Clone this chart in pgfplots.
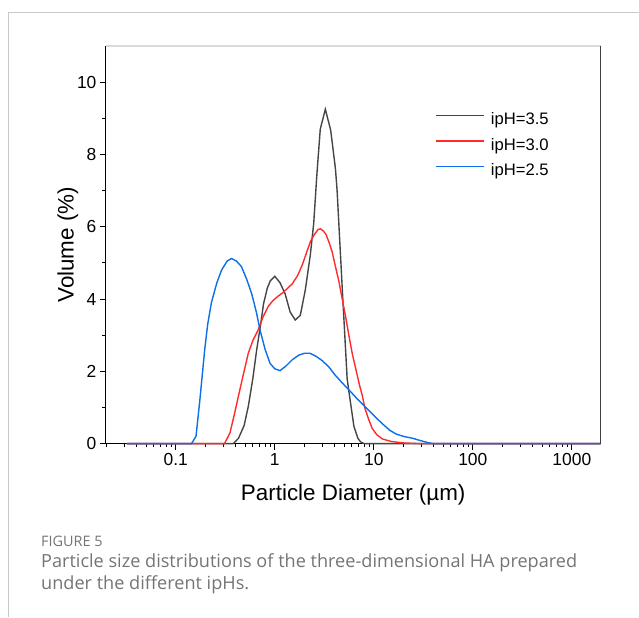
\documentclass[border=0pt]{standalone}
\usepackage{fontspec}
\setmainfont{Liberation Sans}
\newfontfamily\capfont{Open Sans}
\usepackage{pgfplots}
\pgfplotsset{compat=1.18}
\definecolor{phA}{HTML}{454545}
\definecolor{phB}{HTML}{FF2B2B}
\definecolor{phC}{HTML}{0A6FE8}
\definecolor{framegray}{HTML}{C8C8C8}
\definecolor{captext}{HTML}{747474}
\newcommand{\lgap}{\rule[-10bp]{0pt}{30bp}\hspace{4bp}}

\begin{document}
\begin{tikzpicture}
\path (0bp,0bp) rectangle (639bp,-617bp);
\draw[framegray, line width=1bp] (8.5bp,-617bp) -- (8.5bp,-12.5bp) -- (639bp,-12.5bp);
\begin{axis}[
    at={(106bp,-444bp)}, anchor=south west,
    scale only axis, width=495bp, height=398bp,
    xmode=log, xmin=0.0197, xmax=1950,
    ymin=0, ymax=11,
    axis lines*=left,
    axis line style={line width=1.1bp, black},
    tick align=outside,
    major tick length=6bp, minor tick length=3.5bp,
    tick style={line width=0.8bp, black},
    xtick={0.1,1,10,100,1000},
    xticklabels={0.1,1,10,100,1000},
    minor xtick={0.02,0.03,0.04,0.05,0.06,0.07,0.08,0.09,
                 0.2,0.3,0.4,0.5,0.6,0.7,0.8,0.9,
                 2,3,4,5,6,7,8,9,20,30,40,50,60,70,80,90,
                 200,300,400,500,600,700,800,900},
    ytick={0,2,4,6,8,10},
    minor ytick={1,3,5,7,9},
    tick label style={font=\fontsize{17.5}{19}\selectfont},
    /pgf/number format/assume math mode=true,
    xlabel={Particle Diameter (µm)},
    ylabel={Volume (\%)},
    xlabel style={at={(axis description cs:0.5,-0.128)}, anchor=center,
        font=\fontsize{22.5}{25}\selectfont},
    ylabel style={at={(axis description cs:-0.0768,0.5)}, anchor=center,
        font=\fontsize{22.5}{25}\selectfont},
    legend cell align=left,
    legend style={draw=none, fill=none, at={(axis description cs:0.666,0.858)},
        anchor=north west, font=\fontsize{16.7}{18}\selectfont, inner sep=0pt},
    legend image code/.code={\draw[#1] (0bp,0bp) -- (48bp,0bp);},
    clip=false,
]
% ipH = 3.5
\addplot[phA, line width=1.4bp] coordinates {
 (0.032,0) (0.38,0) (0.43,0.15) (0.49,0.5) (0.54,1.03) (0.6,1.8)
 (0.656,2.59) (0.72,3.3) (0.77,3.87) (0.84,4.3) (0.9,4.5) (1.0,4.63)
 (1.13,4.45) (1.27,4.15) (1.43,3.64) (1.61,3.42) (1.81,3.55) (2.03,4.24)
 (2.28,5.2) (2.47,6.08) (2.67,7.5) (2.88,8.7) (3.24,9.25) (3.67,8.67)
 (4.1,7.6) (4.26,7.0) (4.8,4.3) (5.38,1.8) (5.6,1.45) (6.3,0.48)
 (6.9,0.15) (7.35,0.05) (8.0,0) (1950,0)
};
\addlegendentry{\lgap ipH=3.5}
% ipH = 3.0
\addplot[phB, line width=1.4bp] coordinates {
 (0.032,0) (0.31,0) (0.352,0.29) (0.39,0.8) (0.428,1.3) (0.48,1.9)
 (0.54,2.5) (0.6,2.85) (0.68,3.15) (0.76,3.5) (0.86,3.8) (0.96,3.96)
 (1.08,4.08) (1.2,4.17) (1.35,4.3) (1.5,4.42) (1.7,4.65) (1.9,4.95)
 (2.1,5.3) (2.3,5.6) (2.5,5.78) (2.75,5.93) (2.9,5.94) (3.1,5.88)
 (3.3,5.78) (3.55,5.55) (3.8,5.3) (4.1,4.9) (4.43,4.5) (4.8,4.0)
 (5.2,3.5) (5.6,3.0) (6.05,2.5) (6.6,2.05) (7.2,1.6) (7.7,1.3)
 (8.1,1.0) (8.8,0.7) (9.65,0.42) (10.7,0.25) (12.2,0.13) (15,0.06)
 (20,0.02) (30,0) (1950,0)
};
\addlegendentry{\lgap ipH=3.0}
% ipH = 2.5
\addplot[phC, line width=1.4bp] coordinates {
 (0.032,0) (0.144,0) (0.16,0.2) (0.175,1.2) (0.196,2.6) (0.21,3.3)
 (0.229,3.9) (0.26,4.45) (0.29,4.8) (0.33,5.05) (0.366,5.12) (0.41,5.05)
 (0.46,4.9) (0.52,4.55) (0.584,4.15) (0.65,3.65) (0.71,3.14) (0.8,2.6)
 (0.896,2.22) (1.0,2.07) (1.13,2.02) (1.3,2.15) (1.5,2.32) (1.75,2.45)
 (2.0,2.5) (2.27,2.5) (2.6,2.42) (3.0,2.3) (3.5,2.13) (4.06,1.9)
 (4.8,1.68) (5.6,1.49) (6.9,1.22) (8.3,1.0) (10,0.78) (12.2,0.55)
 (14.5,0.37) (16.7,0.27) (20,0.2) (24.6,0.15) (30,0.08) (36.3,0.02)
 (40,0) (1950,0)
};
\addlegendentry{\lgap ipH=2.5}
\draw[black!15, line width=1.2bp] (rel axis cs:0,1) -- (rel axis cs:1,1);
\draw[black!75, line width=1bp] (rel axis cs:1,0) -- (rel axis cs:1,1);
\end{axis}
\node[anchor=base west, inner sep=0pt, text=captext, font=\capfont\fontsize{14.5}{16}\selectfont]
  at (41bp,-547bp) {FIGURE 5};
\node[anchor=base west, inner sep=0pt, text=captext, font=\capfont\fontsize{18.2}{21}\selectfont]
  at (41bp,-568bp) {Particle size distributions of the three-dimensional HA prepared};
\node[anchor=base west, inner sep=0pt, text=captext, font=\capfont\fontsize{18.2}{21}\selectfont]
  at (41bp,-590bp) {under the different ipHs.};
\end{tikzpicture}
\end{document}
